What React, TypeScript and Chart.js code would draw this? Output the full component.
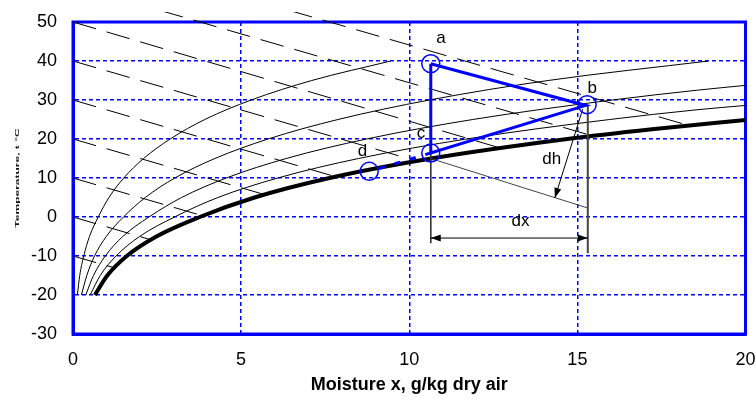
import React, { useEffect, useRef } from 'react';
import { Chart, registerables } from 'chart.js';

Chart.register(...registerables);

// ---- axes ----
const X_MIN = 0, X_MAX = 20, X_STEP = 5;
const T_MIN = -30, T_MAX = 50, T_STEP = 10;

// ---- relative humidity curves (x in g/kg, T in °C) ----
const RH20_X = [0.13, 0.20, 0.32, 0.49, 0.75, 1.07, 1.51, 2.10, 2.89, 3.92, 5.30, 7.10, 9.45];
const RH20_T = [-20, -15, -10, -5, 0, 5, 10, 15, 20, 25, 30, 35, 40];
const RH40_X = [0.25, 0.41, 0.64, 0.99, 1.50, 2.15, 3.03, 4.22, 5.80, 7.88, 10.60, 14.13, 18.90];
const RH40_T = [-20, -15, -10, -5, 0, 5, 10, 15, 20, 25, 30, 35, 40];
const RH60_X = [0.38, 0.61, 0.96, 1.48, 2.26, 3.23, 4.56, 6.34, 8.73, 11.89, 16.04, 18.55, 20];
const RH60_T = [-20, -15, -10, -5, 0, 5, 10, 15, 20, 25, 30, 32.5, 33.75];
const RH80_X = [0.51, 0.81, 1.28, 1.98, 3.02, 4.31, 6.09, 8.49, 11.70, 15.96, 18.56, 20];
const RH80_T = [-20, -15, -10, -5, 0, 5, 10, 15, 20, 25, 27.5, 28.6];
const SAT_X = [0.65, 1.02, 1.60, 2.48, 3.77, 5.40, 7.63, 10.65, 14.70, 17.22, 20];
const SAT_T = [-20, -15, -10, -5, 0, 5, 10, 15, 20, 22.5, 24.9];

// ---- constant enthalpy lines (kJ/kg) ----
const H_LEVELS = [-10, 0, 10, 20, 30, 40, 50, 60, 70];
const H_START_X = [0, 0, 0, 0, 0, 0, 0, 2.58, 6.42];
const H_START_T = [-10, 0, 10, 20, 30, 40, 50, 53, 53];
const H_END_X = [1.22, 2.3, 3.86, 5.7, 7.82, 10.22, 12.7, 15.45, 18.3];
const H_END_T = [-13, -5.8, 0.3, 5.75, 10.3, 14.35, 17.7, 20.8, 23.5];

// ---- process points a, b, c, d ----
const POINT_NAMES = ['a', 'b', 'c', 'd'];
const POINT_X = [10.64, 15.25, 10.64, 8.81];
const POINT_T = [39.3, 28.6, 16.4, 11.7];
const CIRCLE_X = [10.64, 15.29, 10.64, 8.81];
const CIRCLE_T = [39.3, 28.8, 16.4, 11.7];

// ---- construction lines ----
const VC_X = [10.64, 10.64];
const VC_T = [16.4, -6.7];
const VB_X = [15.31, 15.31];
const VB_T = [28.6, -9.3];
const DX_X = [10.64, 15.31];
const DX_T = [-5.4, -5.4];
const HC_X = [10.64, 15.31];
const HC_T = [15.0, 2.3];
const DH_X = [15.16, 14.33];
const DH_T = [27.7, 4.9];

// ---- text labels ----
const LABEL_TEXT = ['a', 'b', 'c', 'd', 'dx', 'dh'];
const LABEL_X = [10.94, 15.44, 10.35, 8.61, 13.31, 14.24];
const LABEL_T = [45.9, 33.1, 21.5, 16.8, -1.1, 14.7];

const FONT = "'Liberation Sans', Arial, sans-serif";
const BLUE = '#0000ff';

const pts = (xs: number[], ys: number[]) => xs.map((x, i) => ({ x, y: ys[i] }));

const borderPlugin = {
  id: 'plotBorder',
  beforeDatasetsDraw(chart: any) {
    const { ctx, chartArea: a } = chart;
    ctx.save();
    ctx.strokeStyle = BLUE;
    ctx.lineWidth = 3;
    ctx.strokeRect(a.left, a.top, a.right - a.left, a.bottom - a.top);
    ctx.restore();
  },
};

const arrowPlugin = {
  id: 'arrows',
  afterDatasetsDraw(chart: any) {
    const { ctx } = chart;
    chart.data.datasets.forEach((ds: any, i: number) => {
      if (!ds.arrow) return;
      const els = chart.getDatasetMeta(i).data;
      if (els.length < 2) return;
      const head = (tip: any, from: any) => {
        const ang = Math.atan2(tip.y - from.y, tip.x - from.x);
        const L = 10, W = 3.5;
        ctx.save();
        ctx.fillStyle = ds.borderColor;
        ctx.translate(tip.x, tip.y);
        ctx.rotate(ang);
        ctx.beginPath();
        ctx.moveTo(0, 0);
        ctx.lineTo(-L, -W);
        ctx.lineTo(-L, W);
        ctx.closePath();
        ctx.fill();
        ctx.restore();
      };
      const p0 = els[0], p1 = els[els.length - 1];
      head(p1, p0);
      if (ds.arrow === 'both') head(p0, p1);
    });
  },
};

const labelPlugin = {
  id: 'textLabels',
  afterDatasetsDraw(chart: any) {
    const { ctx, scales } = chart;
    ctx.save();
    ctx.fillStyle = '#000';
    ctx.font = `17px ${FONT}`;
    ctx.textAlign = 'center';
    ctx.textBaseline = 'middle';
    LABEL_TEXT.forEach((t, i) => {
      ctx.fillText(t, scales.x.getPixelForValue(LABEL_X[i]), scales.y.getPixelForValue(LABEL_T[i]));
    });
    ctx.restore();
  },
};

const yTitlePlugin = {
  id: 'yTitle',
  afterDraw(chart: any) {
    const { ctx, chartArea: a } = chart;
    ctx.save();
    ctx.translate(17, (a.top + a.bottom) / 2);
    ctx.rotate(-Math.PI / 2);
    ctx.scale(1, 0.5);
    ctx.fillStyle = '#111';
    ctx.font = `bold 12px ${FONT}`;
    ctx.textAlign = 'center';
    ctx.textBaseline = 'middle';
    ctx.fillText('Temperature, t °C', 0, 0);
    ctx.restore();
  },
};

export default function App() {
  const ref = useRef<HTMLCanvasElement | null>(null);

  useEffect(() => {
    if (!ref.current) return;
    const line = (extra: any) => ({
      showLine: true,
      pointRadius: 0,
      pointHoverRadius: 0,
      fill: false,
      borderColor: '#000',
      borderWidth: 1,
      ...extra,
    });

    const enthalpy = H_LEVELS.map((h, i) =>
      line({
        label: `h = ${h} kJ/kg`,
        data: [
          { x: H_START_X[i], y: H_START_T[i] },
          { x: H_END_X[i], y: H_END_T[i] },
        ],
        borderDash: [24, 11],
        clip: { left: 0, top: 10, right: 0, bottom: 0 },
      })
    );

    const datasets: any[] = [
      {
        label: 'points',
        data: pts(CIRCLE_X, CIRCLE_T),
        showLine: false,
        pointRadius: 9,
        pointHoverRadius: 9,
        pointStyle: 'circle',
        borderColor: BLUE,
        backgroundColor: 'rgba(0,0,0,0)',
        borderWidth: 1.5,
      },
      line({ label: 'process a-b-c', data: pts([POINT_X[0], POINT_X[1], POINT_X[2], POINT_X[0]], [POINT_T[0], POINT_T[1], POINT_T[2], POINT_T[0]]), borderColor: BLUE, borderWidth: 3 }),
      line({ label: 'd-c', data: pts([POINT_X[3] + 0.3, POINT_X[2]], [POINT_T[3] + 0.77, POINT_T[2]]), borderColor: BLUE, borderWidth: 3, borderDash: [6, 10] }),
      line({ label: 'dh', data: pts(DH_X, DH_T), arrow: 'end' }),
      line({ label: 'dx', data: pts(DX_X, DX_T), arrow: 'both' }),
      line({ label: 'vc', data: pts(VC_X, VC_T), borderColor: '#333' }),
      line({ label: 'vb', data: pts(VB_X, VB_T), borderColor: '#444', borderWidth: 2 }),
      line({ label: 'hc', data: pts(HC_X, HC_T), borderColor: '#444' }),
      line({ label: '100%', data: pts(SAT_X, SAT_T), borderWidth: 4, cubicInterpolationMode: 'monotone' }),
      line({ label: '80%', data: pts(RH80_X, RH80_T), cubicInterpolationMode: 'monotone' }),
      line({ label: '60%', data: pts(RH60_X, RH60_T), cubicInterpolationMode: 'monotone' }),
      line({ label: '40%', data: pts(RH40_X, RH40_T), cubicInterpolationMode: 'monotone' }),
      line({ label: '20%', data: pts(RH20_X, RH20_T), cubicInterpolationMode: 'monotone' }),
      ...enthalpy,
    ];

    const tickFont = { family: FONT, size: 18 };

    const chart = new Chart(ref.current, {
      type: 'scatter',
      data: { datasets },
      plugins: [borderPlugin, arrowPlugin, labelPlugin, yTitlePlugin],
      options: {
        responsive: false,
        animation: false,
        events: [],
        layout: { padding: { top: 22, right: 9, left: 0, bottom: 0 } },
        plugins: {
          legend: { display: false },
          tooltip: { enabled: false },
        },
        scales: {
          x: {
            type: 'linear',
            min: X_MIN,
            max: X_MAX,
            ticks: { stepSize: X_STEP, color: '#000', font: tickFont, padding: 15 },
            grid: { color: BLUE, lineWidth: 1.5, drawTicks: false },
            border: { display: true, color: BLUE, width: 3, dash: [4, 3] },
            title: {
              display: true,
              text: 'Moisture x, g/kg dry air',
              color: '#000',
              font: { family: FONT, size: 18, weight: 'bold' },
              padding: { top: 0, bottom: 7 },
            },
            afterFit: (s: any) => {
              s.height = 69;
              s.paddingLeft = 0;
              s.paddingRight = 0;
            },
          },
          y: {
            type: 'linear',
            min: T_MIN,
            max: T_MAX,
            ticks: { stepSize: T_STEP, color: '#000', font: tickFont, padding: 16 },
            grid: { color: BLUE, lineWidth: 1.5, drawTicks: false },
            border: { display: true, color: BLUE, width: 3, dash: [4, 3] },
            afterFit: (s: any) => {
              s.width = 73;
              s.paddingTop = 0;
              s.paddingBottom = 0;
            },
          },
        },
      } as any,
    });
    return () => chart.destroy();
  }, []);

  return (
    <div style={{ position: 'absolute', left: 0, top: 0, width: 756, height: 403, background: '#fff' }}>
      <canvas ref={ref} width={756} height={403} style={{ width: 756, height: 403, display: 'block' }} />
    </div>
  );
}
